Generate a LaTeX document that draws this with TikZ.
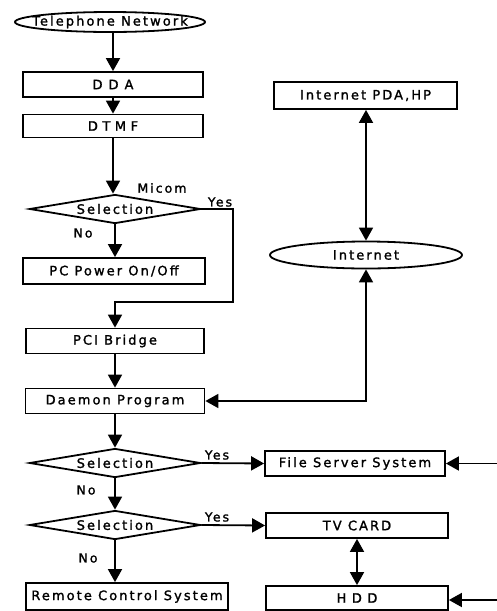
\documentclass[tikz,border=0pt]{standalone}
\usepackage{fontspec}
\setmainfont{DejaVu Sans}[LetterSpace=16,FakeBold=1.5]
\usetikzlibrary{arrows.meta,shapes.geometric}
\begin{document}
\begin{tikzpicture}[x=1pt,y=-1pt,
  every node/.style={font=\fontsize{13}{15}\selectfont},
  box/.style={draw,line width=1.8pt,rectangle,inner sep=0pt,minimum height=25pt},
  oval/.style={draw,line width=1.8pt,ellipse,inner sep=0pt},
  decision/.style={draw,line width=1.8pt,diamond,aspect=5.9,inner sep=0pt,minimum width=171pt,minimum height=29pt},
  lbl/.style={inner sep=0pt,font=\fontsize{12.5}{14}\selectfont},
  conn/.style={line width=1.8pt,-{Triangle[width=14pt,length=13pt]}},
  dconn/.style={line width=1.8pt,{Triangle[width=14pt,length=13pt]}-{Triangle[width=14pt,length=13pt]}}]
\useasboundingbox (0,0) rectangle (497,611);
% left column
\node[oval,minimum width=190pt,minimum height=20pt] (tel) at (110,22) {\makebox[0pt]{Telephone Network}};
\node[box,minimum width=180pt] (dda) at (113,84.5) {\spaceskip=6pt D D A};
\node[box,minimum width=180pt,minimum height=23pt] (dtmf) at (113,126) {\spaceskip=4.5pt D T M F};
\node[decision] (s1) at (115,209) {Selection};
\node[box,minimum width=182pt,minimum height=26pt] (pcp) at (114,271) {PC Power On/Off};
\node[box,minimum width=178pt] (pci) at (115,341) {PCI Bridge};
\node[box,minimum width=179pt] (dae) at (115,401) {Daemon Program};
\node[decision] (s2) at (115,463) {Selection};
\node[decision] (s3) at (115,525) {Selection};
\node[box,minimum width=202pt,minimum height=27pt] (rcs) at (127,596.5) {Remote Control System};
% right column
\node[box,minimum width=183pt,minimum height=27pt] (pda) at (365.5,95.5) {Internet PDA,HP};
\node[oval,minimum width=192pt,minimum height=27pt] (inet) at (366,255) {Internet};
\node[box,minimum width=180pt] (fss) at (355,463.5) {File Server System};
\node[box,minimum width=182pt] (tv) at (357,525.5) {TV CARD};
\node[box,minimum width=182pt,minimum height=24pt] (hdd) at (357,598) {\spaceskip=5.5pt H D D};
% labels
\node[lbl] (micom) at (162,188) {Micom};
\node[lbl] (yes1) at (220,202) {Yes};
\node[lbl] (no1) at (83,233) {No};
\node[lbl] (yes2) at (217,455) {Yes};
\node[lbl] (no2) at (86,490) {No};
\node[lbl] (yes3) at (217,517) {Yes};
\node[lbl] (no3) at (88,558) {No};
% coordinates
\coordinate (c1) at (233,302);
\coordinate (inF) at (497,463.5);
\coordinate (inH) at (497,600);
% connectors
\draw[conn] (tel.south -| dda.north) -- (dda.north);
\draw[conn] (dda.south) -- (dtmf.north);
\draw[conn] (dtmf.south) -- (dtmf.south |- s1.north);
\draw[conn] (s1.south) -- (s1.south |- pcp.north);
\draw[conn] (s1.east) -| (c1) -| (pci.north);
\draw[conn] (pci.south) -- (dae.north);
\draw[conn] (dae.south) -- (s2.north);
\draw[conn] (s2.south) -- (s3.north);
\draw[conn] (s3.south) -- (s3.south |- rcs.north);
\draw[conn] (s2.east) -- (fss.west);
\draw[conn] (s3.east) -- (tv.west);
\draw[dconn] (tv.south -| hdd.north) -- (hdd.north);
\draw[dconn] (pda.south -| inet.north) -- (inet.north);
\draw[dconn] (dae.east) -| (inet.south);
\draw[conn] (inF) -- (fss.east);
\draw[conn] (inH) -- (inH -| hdd.east);
\end{tikzpicture}
\end{document}
